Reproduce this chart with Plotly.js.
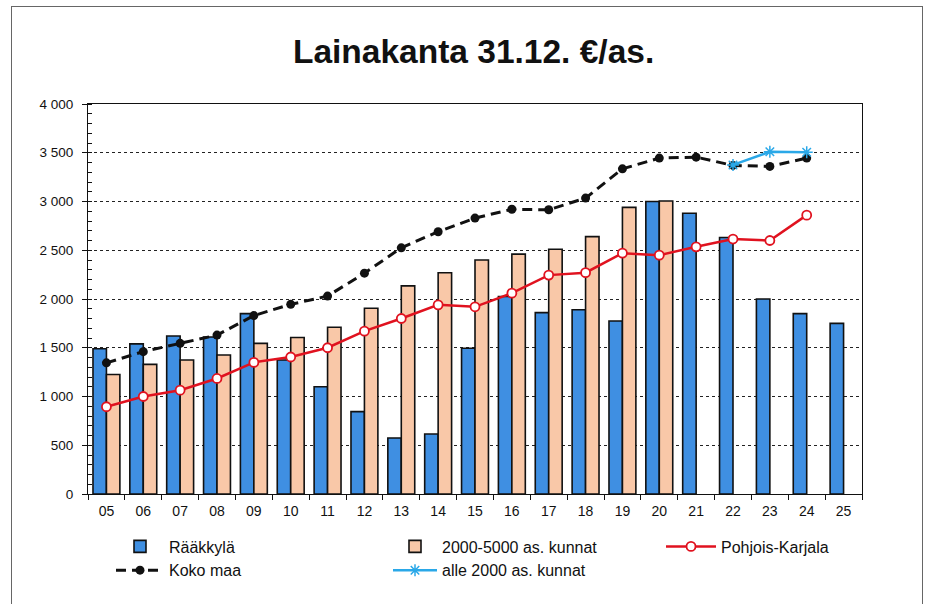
<!DOCTYPE html>
<html>
<head>
<meta charset="utf-8">
<script src="https://cdn.plot.ly/plotly-3.0.1.min.js"></script>
<style>
  html, body { margin:0; padding:0; background:#fff; }
  #chart { width:925px; height:604px; }
  #frame { position:absolute; left:11px; top:6px; width:910px; height:640px; border:1px solid #666; pointer-events:none; }
</style>
</head>
<body>
<div id="chart"></div>
<div id="frame"></div>
<script>
const years = ['05','06','07','08','09','10','11','12','13','14','15','16','17','18','19','20','21','22','23','24','25'];
const raakkyla = [1490,1540,1620,1610,1850,1375,1100,845,575,615,1495,2025,1860,1890,1775,3000,2880,2630,2000,1850,1750];
const kunnat2000_5000 = [1225,1330,1375,1425,1545,1605,1710,1905,2135,2270,2400,2460,2510,2640,2940,3005,null,null,null,null,null];
const kokoMaa = [1345,1460,1545,1630,1830,1945,2030,2265,2525,2690,2830,2920,2915,3035,3335,3445,3455,3370,3360,3445,null];
const pohjoisKarjala = [895,1000,1065,1185,1350,1405,1500,1670,1800,1940,1920,2060,2245,2270,2470,2450,2535,2615,2600,2860,null];
const alle2000 = [null,null,null,null,null,null,null,null,null,null,null,null,null,null,null,null,null,3375,3510,3505,null];
const yTicks = [0,500,1000,1500,2000,2500,3000,3500,4000];

const traces = [
  {type:'bar', name:'Rääkkylä', x:years, y:raakkyla, legend:'legend', legendrank:1,
   marker:{color:'#3F8FE2', line:{color:'#111', width:1.6}}},
  {type:'bar', name:'2000-5000 as. kunnat', x:years, y:kunnat2000_5000, legend:'legend2', legendrank:1,
   marker:{color:'#F9C8A8', line:{color:'#111', width:1.6}}},
  {type:'scatter', mode:'lines+markers', name:'Koko maa', x:years, y:kokoMaa, legend:'legend', legendrank:2,
   line:{color:'#111', width:3, dash:'10px,6px'}, marker:{color:'#111', size:9, symbol:'circle'}},
  {type:'scatter', mode:'lines+markers', name:'Pohjois-Karjala', x:years, y:pohjoisKarjala, legend:'legend3', legendrank:1,
   line:{color:'#E0121F', width:2.5}, marker:{color:'#fff', size:9, symbol:'circle', line:{color:'#E0121F', width:1.8}}},
  {type:'scatter', mode:'lines+markers', name:'alle 2000 as. kunnat', x:years, y:alle2000, legend:'legend2', legendrank:2,
   line:{color:'#2AA8E8', width:2.5}, marker:{color:'#2AA8E8', size:10, symbol:'asterisk-open', line:{color:'#2AA8E8', width:1.5}}}
];

const legendBase = {orientation:'v', xanchor:'left', yanchor:'top', y:-0.091,
                    font:{size:16, color:'#111'}, traceorder:'normal', bgcolor:'rgba(0,0,0,0)', borderwidth:0};

const layout = {
  width:925, height:604,
  margin:{l:88, r:63, t:104, b:110},
  paper_bgcolor:'#fff', plot_bgcolor:'#fff',
  separators:', ',
  font:{family:'Liberation Sans, Arial, sans-serif', color:'#111', size:14},
  title:{text:'<b>Lainakanta 31.12. €/as.</b>', font:{size:33.5, color:'#111'}, x:0.512, xanchor:'center', y:0.915, yanchor:'middle'},
  barmode:'group', bargap:0.27, bargroupgap:0,
  xaxis:{type:'category', range:[-0.5, 20.5], showline:true, linecolor:'#111', linewidth:1, mirror:true,
         ticks:'outside', tickson:'boundaries', ticklen:5, tickcolor:'#111', ticklabelstandoff:4,
         tickfont:{size:14}, showgrid:false},
  yaxis:{range:[0,4000], tickvals:yTicks, tickformat:',', showline:true, linecolor:'#111', linewidth:1, mirror:true,
         ticks:'outside', ticklen:5, tickcolor:'#111', tickfont:{size:13.5}, ticklabelstandoff:6,
         showgrid:true, gridcolor:'#222', griddash:'dot', gridwidth:1, zeroline:false,
         minor:{dtick:100, ticks:'inside', ticklen:4, tickcolor:'#111', showgrid:false}},
  legend:Object.assign({}, legendBase, {x:(111-88)/774, itemwidth:48}),
  legend2:Object.assign({}, legendBase, {x:(388-88)/774, itemwidth:44}),
  legend3:Object.assign({}, legendBase, {x:(661-88)/774, itemwidth:50}),
  showlegend:true
};

Plotly.newPlot('chart', traces, layout, {displayModeBar:false, staticPlot:true});
</script>
</body>
</html>
